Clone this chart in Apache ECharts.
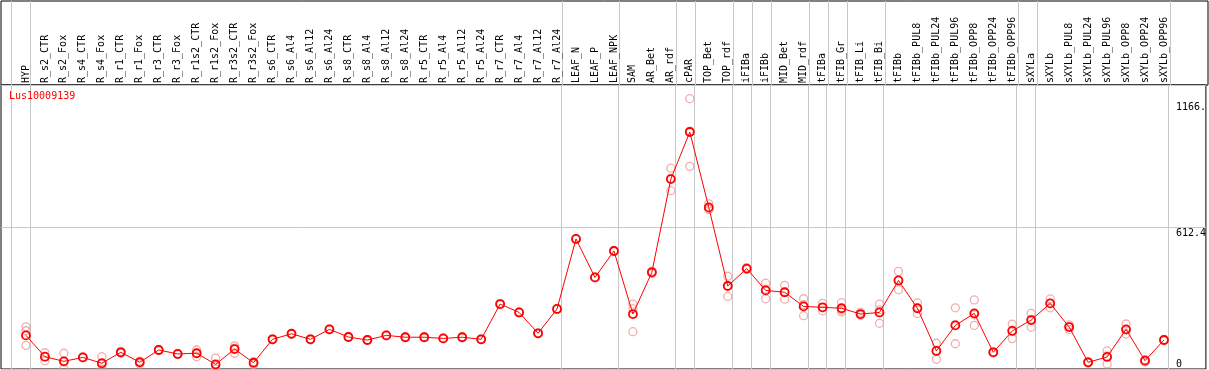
<!DOCTYPE html>
<html>
<head>
<meta charset="utf-8">
<script src="https://cdn.jsdelivr.net/npm/echarts@6/dist/echarts.min.js"></script>
<style>
html,body{margin:0;padding:0;background:#fff;}
#chart{width:1209px;height:370px;}
</style>
</head>
<body>
<div id="chart"></div>
<script>
// ---- data ----
const geneName = 'Lus10009139';
const categories = ['HYP','R_s2_CTR','R_s2_Fox','R_s4_CTR','R_s4_Fox','R_r1_CTR','R_r1_Fox','R_r3_CTR','R_r3_Fox','R_r1s2_CTR','R_r1s2_Fox','R_r3s2_CTR','R_r3s2_Fox','R_s6_CTR','R_s6_Al4','R_s6_Al12','R_s6_Al24','R_s8_CTR','R_s8_Al4','R_s8_Al12','R_s8_Al24','R_r5_CTR','R_r5_Al4','R_r5_Al12','R_r5_Al24','R_r7_CTR','R_r7_Al4','R_r7_Al12','R_r7_Al24','LEAF_N','LEAF_P','LEAF_NPK','SAM','AR_Bet','AR_rdf','cPAR','TOP_Bet','TOP_rdf','iFIBa','iFIBb','MID_Bet','MID_rdf','tFIBa','tFIB_Gr','tFIB_Li','tFIB_Bi','tFIBb','tFIBb_PUL8','tFIBb_PUL24','tFIBb_PUL96','tFIBb_OPP8','tFIBb_OPP24','tFIBb_OPP96','sXYLa','sXYLb','sXYLb_PUL8','sXYLb_PUL24','sXYLb_PUL96','sXYLb_OPP8','sXYLb_OPP24','sXYLb_OPP96'];
const meanValues = [145,53,33,50,25,72,29,82,65,68,20,86,27,128,152,128,171,138,125,145,137,137,132,137,128,280,244,154,259,561,395,509,237,417,819,1022,697,358,433,339,331,270,266,262,237,244,382,262,78,188,240,72,164,211,283,181,29,52,171,36,125];
const replicateValues = [
 [182,165,102],[70,36,53],[68,0,31],[48,52,50],[53,0,22],[76,68,72],[31,22,34],[84,80,82],[62,67,66],[82,53,69],
 [47,0,13],[100,68,90],[30,20,31],[130,126,128],[154,150,152],[130,126,128],[173,169,171],[140,136,138],[127,123,125],[147,143,145],
 [139,135,137],[139,135,137],[134,130,132],[139,135,137],[130,126,128],[282,278,280],[246,242,244],[156,152,154],[261,257,259],[563,559,561],
 [397,393,395],[511,507,509],[280,259,161],[422,412,417],[866,769,822],[1166,874,1026],[712,690,689],[400,313,361],[437,430,432],[370,303,344],
 [361,301,331],[303,230,277],[283,251,264],[286,246,254],[245,231,235],[280,197,255],[421,342,383],[285,239,262],[111,42,81],[264,109,191],
 [298,188,234],[74,70,72],[193,131,168],[240,180,213],[302,264,283],[190,170,183],[31,25,31],[78,22,56],[194,151,168],[40,30,38],
 [128,122,125]
];
const groupEnds = [-1,0,28,31,34,35,37,38,39,41,42,43,45,52,53,60]; // separator after these category indices
const yMax = 1224.8;
const yMid = 612.4;
const yTopLabel = 1166;

// ---- build ----
const FONT = '"DejaVu Sans Mono","Liberation Mono",monospace';
const sepValues = groupEnds.map(i => i + 0.22);
const meanData = meanValues.map((v, i) => [i, v]);
const repData = [];
replicateValues.forEach((arr, i) => arr.forEach(v => repData.push([i, v])));
const catIdx = categories.map((c, i) => i);
const xMin = -1.316, xMax = 62.21;

const chart = echarts.init(document.getElementById('chart'), null, {renderer: 'canvas'});
chart.setOption({
  animation: false,
  backgroundColor: '#fff',
  title: {
    text: geneName, left: 9, top: 91, padding: 0,
    textStyle: {color: '#ff0000', fontFamily: FONT, fontSize: 10, fontWeight: 'normal'}
  },
  grid: [
    {left: 1, right: 1, top: 85, bottom: 1, show: true, borderColor: '#000', borderWidth: 1, backgroundColor: 'transparent'},
    {left: 1, right: 1, top: 1, height: 84, show: true, borderColor: '#000', borderWidth: 1, backgroundColor: 'transparent'}
  ],
  xAxis: [
    {
      type: 'value', gridIndex: 0, position: 'top', min: xMin, max: xMax,
      axisLine: {show: false},
      axisTick: {show: false, customValues: sepValues},
      splitLine: {show: true, lineStyle: {color: '#c8c8c8', width: 1}},
      axisLabel: {
        show: true, customValues: catIdx, rotate: 90, margin: 2,
        fontFamily: FONT, fontSize: 10, color: '#000',
        formatter: v => categories[Math.round(v)]
      }
    },
    {
      type: 'value', gridIndex: 1, position: 'bottom', min: xMin, max: xMax,
      axisLine: {show: false},
      axisTick: {show: false, customValues: sepValues},
      splitLine: {show: true, lineStyle: {color: '#c8c8c8', width: 1}},
      axisLabel: {show: false}
    }
  ],
  yAxis: [
    {
      type: 'value', gridIndex: 0, position: 'right', min: 0, max: yMax, interval: yMid,
      axisLine: {show: false}, axisTick: {show: false},
      splitLine: {show: true, lineStyle: {color: '#c8c8c8', width: 1}},
      axisLabel: {
        inside: true, align: 'left', margin: 30, verticalAlign: 'top',
        customValues: [yMid, yTopLabel],
        fontFamily: FONT, fontSize: 10, color: '#000',
        formatter: v => (v === yTopLabel ? '{t|1166.}' : '{m|' + v + '}'),
        rich: {
          t: {fontFamily: FONT, fontSize: 10, color: '#000', padding: [4, 0, 0, 0]},
          m: {fontFamily: FONT, fontSize: 10, color: '#000', padding: [1, 0, 0, 0]}
        }
      }
    },
    {
      type: 'value', gridIndex: 0, position: 'right', min: 0, max: yMax, interval: yMid,
      axisLine: {show: false}, axisTick: {show: false}, splitLine: {show: false},
      axisLabel: {
        inside: true, align: 'left', margin: 30, verticalAlign: 'bottom',
        customValues: [0],
        fontFamily: FONT, fontSize: 10, color: '#000',
        formatter: v => String(v)
      }
    },
    {type: 'value', gridIndex: 1, min: 0, max: 1, show: false}
  ],
  series: [
    {
      type: 'scatter', xAxisIndex: 0, yAxisIndex: 0, data: repData, z: 2,
      symbol: 'circle', symbolSize: 8,
      itemStyle: {color: 'rgba(0,0,0,0)', borderColor: '#ef9a9a', borderWidth: 1.3}
    },
    {
      type: 'line', xAxisIndex: 0, yAxisIndex: 0, data: meanData, z: 3,
      symbol: 'circle', symbolSize: 8, showSymbol: true,
      lineStyle: {color: '#ff0000', width: 1},
      itemStyle: {color: 'rgba(0,0,0,0)', borderColor: '#ff0000', borderWidth: 1.8}
    }
  ]
});
</script>
</body>
</html>
